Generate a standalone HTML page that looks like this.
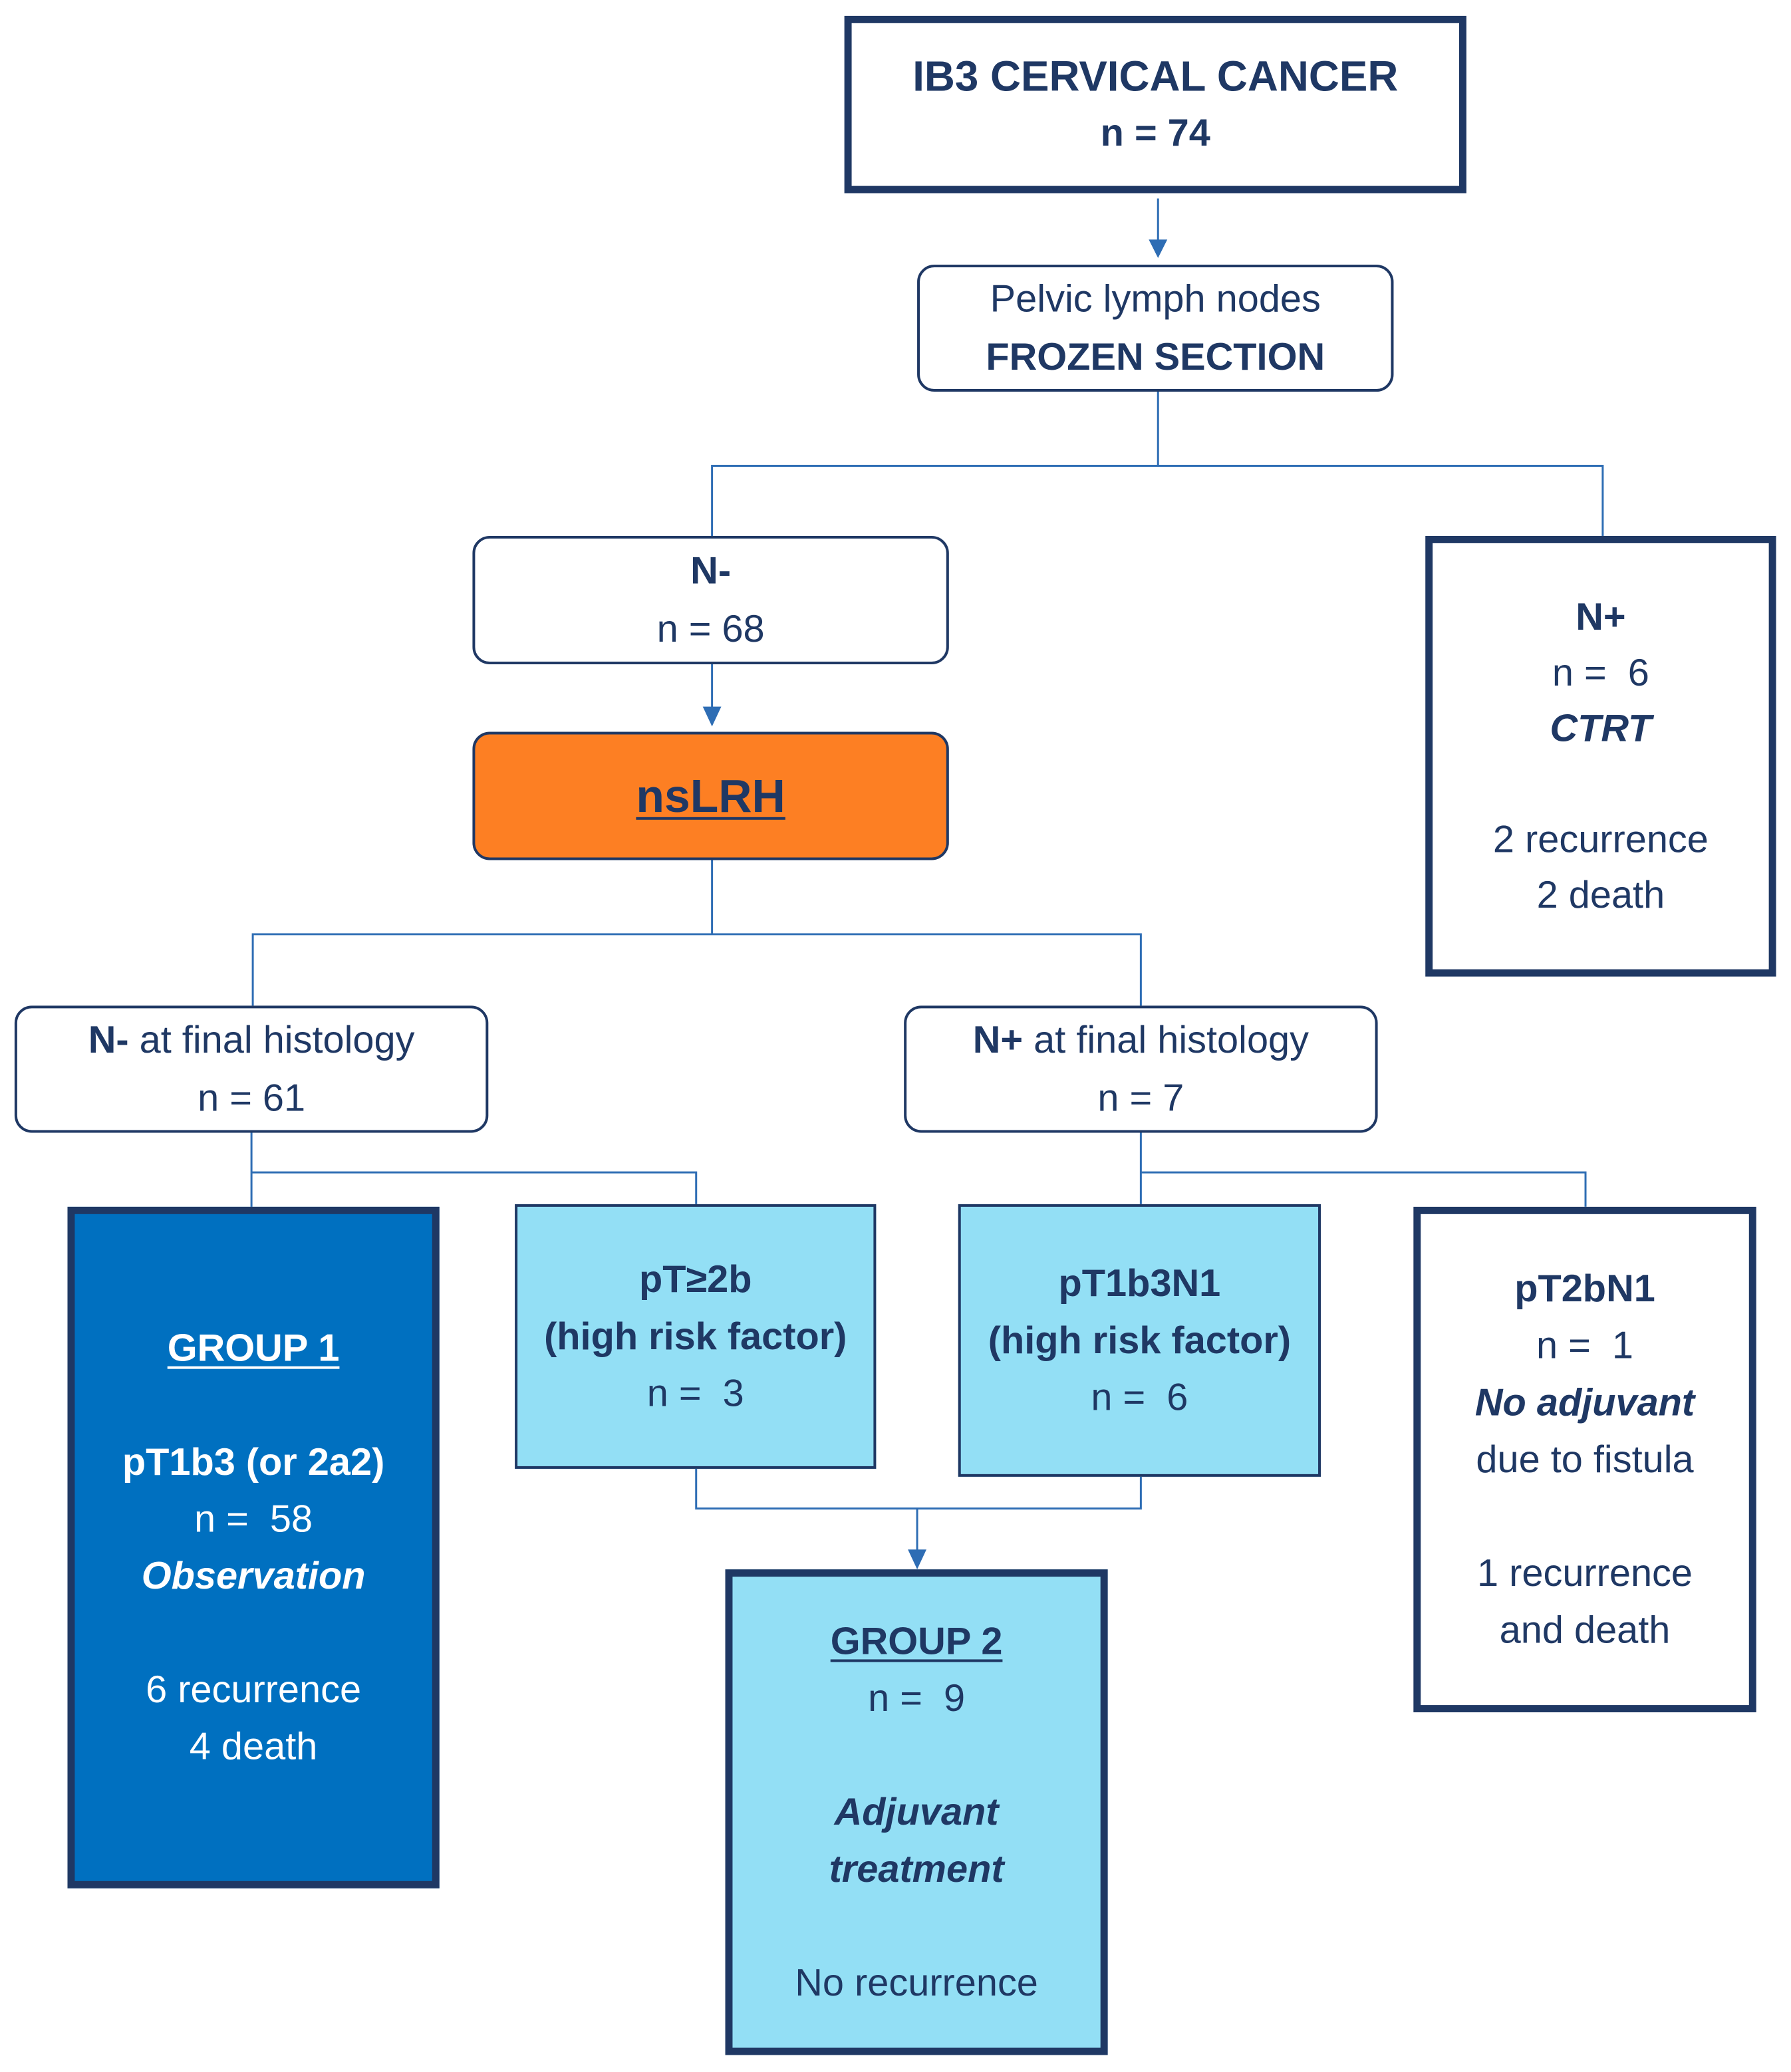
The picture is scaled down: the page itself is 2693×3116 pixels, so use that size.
<!DOCTYPE html>
<html><head><meta charset="utf-8"><style>
html,body{margin:0;padding:0;background:#fff;}
body{width:2693px;height:3116px;position:relative;overflow:hidden;font-family:"Liberation Sans",sans-serif;color:#1f3864;}
#w{position:absolute;left:0;top:0;width:2693px;height:3116px;transform:scale(0.995);transform-origin:0 0;}
.b{position:absolute;box-sizing:border-box;display:flex;flex-direction:column;align-items:center;justify-content:center;text-align:center;font-size:58px;line-height:86px;}
.thin{border:4px solid #1f3864;border-radius:26px;background:#fff;}
.thick{border:11px solid #1f3864;background:#fff;}
.cy{background:#93dff5;}
b{font-weight:bold;}
u{text-decoration-thickness:4px;text-underline-offset:8px;}
.sp{height:86px;}
</style></head><body><div id="w">
<svg width="2693" height="3116" style="position:absolute;left:0;top:0" stroke="#2e6db4" stroke-width="3" fill="none">
<line x1="1750" y1="300" x2="1750" y2="372"/>
<polygon points="1736,362 1764,362 1750,390" fill="#2e6db4" stroke="none"/>
<polyline points="1750,592 1750,704"/>
<polyline points="1076,810 1076,704 2422,704 2422,810"/>
<line x1="1076" y1="1004" x2="1076" y2="1078"/>
<polygon points="1062,1068 1090,1068 1076,1098" fill="#2e6db4" stroke="none"/>
<polyline points="1076,1300 1076,1412"/>
<polyline points="382,1520 382,1412 1724,1412 1724,1520"/>
<polyline points="380,1712 380,1824"/>
<polyline points="380,1772 1052,1772 1052,1820"/>
<polyline points="1724,1712 1724,1820"/>
<polyline points="1724,1772 2396,1772 2396,1824"/>
<polyline points="1052,2220 1052,2280 1724,2280 1724,2232"/>
<line x1="1386" y1="2280" x2="1386" y2="2350"/>
<polygon points="1372,2342 1400,2342 1386,2372" fill="#2e6db4" stroke="none"/>
</svg>

<div class="b thick" style="left:1276px;top:24px;width:940px;height:268px;"><b style="font-size:64px">IB3 CERVICAL CANCER</b><b>n = 74</b></div>
<div class="b thin" style="left:1386px;top:400px;width:720px;height:192px;line-height:88px;"><span>Pelvic lymph nodes</span><b>FROZEN SECTION</b></div>
<div class="b thin" style="left:714px;top:810px;width:720px;height:194px;line-height:88px;"><b>N-</b><span>n = 68</span></div>
<div class="b thin" style="left:714px;top:1106px;width:720px;height:194px;background:#fd7f23;"><b style="font-size:70px"><u>nsLRH</u></b></div>
<div class="b thick" style="left:2154px;top:810px;width:530px;height:666px;line-height:84px;"><b>N+</b><span>n = &nbsp;6</span><b><i>CTRT</i></b><div style="height:84px"></div><span>2 recurrence</span><span>2 death</span></div>
<div class="b thin" style="left:22px;top:1520px;width:716px;height:192px;line-height:88px;"><span><b>N-</b> at final histology</span><span>n = 61</span></div>
<div class="b thin" style="left:1366px;top:1520px;width:716px;height:192px;line-height:88px;"><span><b>N+</b> at final histology</span><span>n = 7</span></div>
<div class="b thick" style="left:102px;top:1824px;width:562px;height:1030px;background:#0070c0;color:#fff;"><b><u>GROUP 1</u></b><div class="sp"></div><b>pT1b3 (or 2a2)</b><span>n = &nbsp;58</span><b><i>Observation</i></b><div class="sp"></div><span>6 recurrence</span><span>4 death</span></div>
<div class="b cy" style="left:778px;top:1820px;width:546px;height:400px;border:4px solid #1f3864;"><b>pT≥2b</b><b>(high risk factor)</b><span>n = &nbsp;3</span></div>
<div class="b cy" style="left:1448px;top:1820px;width:548px;height:412px;border:4px solid #1f3864;"><b>pT1b3N1</b><b>(high risk factor)</b><span>n = &nbsp;6</span></div>
<div class="b thick" style="left:2136px;top:1824px;width:518px;height:764px;"><b>pT2bN1</b><span>n = &nbsp;1</span><b><i>No adjuvant</i></b><span>due to fistula</span><div class="sp"></div><span>1 recurrence</span><span>and death</span></div>
<div class="b thick cy" style="left:1096px;top:2372px;width:578px;height:734px;"><b><u>GROUP 2</u></b><span>n = &nbsp;9</span><div class="sp"></div><b><i>Adjuvant</i></b><b><i>treatment</i></b><div class="sp"></div><span>No recurrence</span></div>
</div></body></html>
